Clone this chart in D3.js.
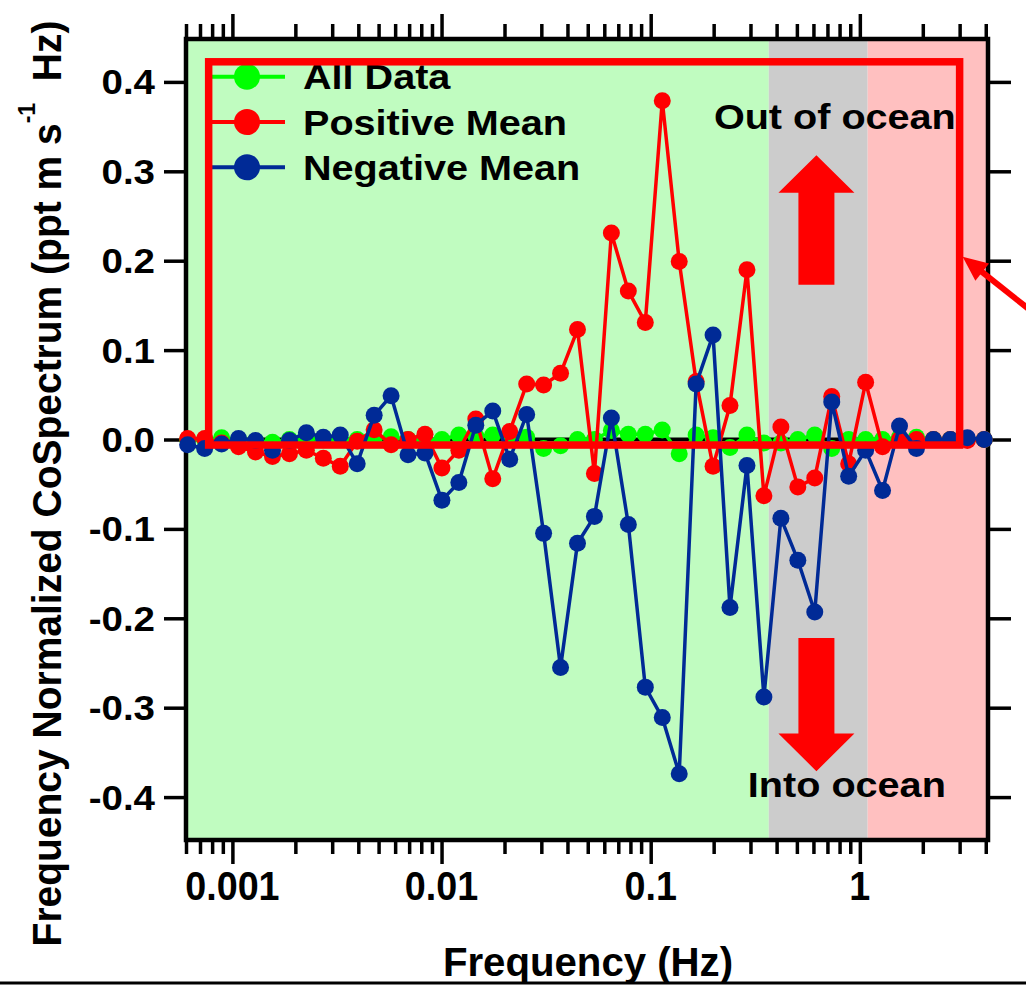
<!DOCTYPE html>
<html>
<head>
<meta charset="utf-8">
<script src="https://cdn.jsdelivr.net/npm/d3@7"></script>
<style>
  html, body { margin: 0; padding: 0; background: #ffffff; }
  svg { display: block; }
  text { font-family: "Liberation Sans", Arial, Helvetica, sans-serif; font-weight: bold; fill: #000; }
</style>
</head>
<body>
<svg id="chart" width="1026" height="986"></svg>
<script>
// ---- data ----------------------------------------------------------------
const frequency = [
  0.000611, 0.000737, 0.000888, 0.00107, 0.00129, 0.001555, 0.001874, 0.002258,
  0.002721, 0.003279, 0.003951, 0.004762, 0.005738, 0.006915, 0.008332, 0.01004,
  0.0121, 0.01458, 0.01757, 0.02118, 0.02553, 0.03076, 0.03707, 0.04467,
  0.05383, 0.06487, 0.07818, 0.09424, 0.1136, 0.1369, 0.1649, 0.1987,
  0.2394, 0.2886, 0.3478, 0.4193, 0.5053, 0.6088, 0.7339, 0.8843,
  1.066, 1.284, 1.548, 1.865, 2.248, 2.709, 3.265, 3.935
];

const allData = [
  0.000, 0.000, 0.002, 0.000, -0.002, -0.003, 0.000, 0.001,
  0.000, 0.000, 0.000, 0.001, 0.003, 0.000, 0.000, 0.000,
  0.005, 0.004, 0.005, 0.002, 0.0025, -0.010, -0.007, 0.000,
  0.000, 0.010, 0.006, 0.006, 0.0106, -0.016, 0.005, 0.002,
  -0.009, 0.005, -0.004, -0.004, 0.000, 0.005, -0.010, 0.000,
  0.000, 0.000, 0.0025, 0.0025, 0.000, 0.000, 0.000, 0.000
];

const positiveMean = [
  0.001, 0.001, -0.004, -0.008, -0.014, -0.019, -0.016, -0.012,
  -0.021, -0.030, -0.002, 0.011, -0.006, 0.000, 0.006, -0.032,
  -0.012, 0.023, -0.044, 0.009, 0.062, 0.061, 0.074, 0.123,
  -0.038, 0.231, 0.166, 0.131, 0.379, 0.199, 0.065, -0.030,
  0.038, 0.190, -0.063, 0.014, -0.053, -0.043, 0.048, -0.027,
  0.064, -0.008, 0.000, 0.000, 0.000, 0.000, -0.001, 0.000
];

const negativeMean = [
  -0.006, -0.010, -0.005, 0.001, -0.001, -0.012, -0.001, 0.0076,
  0.0025, 0.005, -0.027, 0.027, 0.049, -0.017, -0.015, -0.068,
  -0.048, 0.016, 0.032, -0.022, 0.028, -0.105, -0.255, -0.116,
  -0.086, 0.024, -0.095, -0.277, -0.311, -0.374, 0.062, 0.117,
  -0.188, -0.029, -0.288, -0.088, -0.135, -0.193, 0.042, -0.041,
  -0.012, -0.057, 0.015, -0.010, 0.000, 0.000, 0.002, 0.000
];

const seriesNames  = ["All Data", "Positive Mean", "Negative Mean"];
const seriesValues = [allData, positiveMean, negativeMean];
const seriesColors = ["#00ff00", "#ff0000", "#002a96"];

const yTickValues = [-0.4, -0.3, -0.2, -0.1, 0.0, 0.1, 0.2, 0.3, 0.4];
const yTickLabels = ["-0.4", "-0.3", "-0.2", "-0.1", "0.0", "0.1", "0.2", "0.3", "0.4"];
const xTickValues = [0.001, 0.01, 0.1, 1];
const xTickLabels = ["0.001", "0.01", "0.1", "1"];

// frequency bands shaded behind the spectrum
const bandEdges  = [0.367, 1.09];
const bandColors = ["#c0fcc0", "#cccccc", "#ffc0c0"];

// ---- layout --------------------------------------------------------------
const W = 1026, H = 986;
const plot = { left: 186, right: 988, top: 39, bottom: 840 };

const svg = d3.select("#chart");

const x = d3.scaleLog().domain([0.0006, 4.1]).range([plot.left, plot.right]);
const y = d3.scaleLinear().domain([-0.448, 0.448]).range([plot.bottom, plot.top]);

function label(parent, str, px, py, size, anchor, sx) {
  return parent.append("text")
    .attr("transform", `translate(${px},${py}) scale(${sx || 1.1},1)`)
    .attr("text-anchor", anchor || "start")
    .style("font-size", size + "px")
    .text(str);
}

// ---- background bands ----------------------------------------------------
const bandBounds = [x.domain()[0], ...bandEdges, x.domain()[1]];
svg.append("g").selectAll("rect")
  .data(bandColors)
  .join("rect")
  .attr("x", (d, i) => x(bandBounds[i]))
  .attr("width", (d, i) => x(bandBounds[i + 1]) - x(bandBounds[i]))
  .attr("y", plot.top)
  .attr("height", plot.bottom - plot.top)
  .attr("fill", d => d);

// zero reference line
svg.append("line")
  .attr("x1", plot.left).attr("x2", plot.right)
  .attr("y1", y(0)).attr("y2", y(0))
  .attr("stroke", "#000").attr("stroke-width", 4);

// ---- flux direction arrows -----------------------------------------------
const arrowX = x(0.62);
const shaftHalf = 18, headHalf = 38;
function blockArrow(tipY, headBaseY, tailY) {
  return [
    [arrowX, tipY],
    [arrowX + headHalf, headBaseY],
    [arrowX + shaftHalf, headBaseY],
    [arrowX + shaftHalf, tailY],
    [arrowX - shaftHalf, tailY],
    [arrowX - shaftHalf, headBaseY],
    [arrowX - headHalf, headBaseY]
  ];
}
svg.append("polygon")
  .attr("points", blockArrow(y(0.318), y(0.276), y(0.173)).join(" "))
  .attr("fill", "#ff0000");
svg.append("polygon")
  .attr("points", blockArrow(y(-0.371), y(-0.329), y(-0.222)).join(" "))
  .attr("fill", "#ff0000");

label(svg, "Out of ocean", x(0.2005), y(0.347), 36);
label(svg, "Into ocean", x(0.2915), y(-0.400), 36);

// ---- frame and axes ------------------------------------------------------
svg.append("rect")
  .attr("x", plot.left).attr("y", plot.top)
  .attr("width", plot.right - plot.left).attr("height", plot.bottom - plot.top)
  .attr("fill", "none").attr("stroke", "#000").attr("stroke-width", 4.5);

const logTicks = x.ticks().filter(v => v >= x.domain()[0] && v <= x.domain()[1] * 1.0001);
const minorTicks = logTicks.filter(v => !xTickValues.some(m => Math.abs(m - v) / m < 1e-6));

function styleAxis(g) {
  g.select(".domain").remove();
  g.selectAll(".tick line").attr("stroke", "#000").attr("stroke-width", 3.5);
  g.selectAll(".tick text").remove();
}

svg.append("g").attr("transform", `translate(0,${plot.bottom})`)
  .call(d3.axisBottom(x).tickValues(minorTicks).tickSize(14).tickFormat("")).call(styleAxis);
svg.append("g").attr("transform", `translate(0,${plot.bottom})`)
  .call(d3.axisBottom(x).tickValues(xTickValues).tickSize(24).tickFormat("")).call(styleAxis);
svg.append("g").attr("transform", `translate(0,${plot.top})`)
  .call(d3.axisTop(x).tickValues(minorTicks).tickSize(15).tickFormat("")).call(styleAxis);
svg.append("g").attr("transform", `translate(0,${plot.top})`)
  .call(d3.axisTop(x).tickValues(xTickValues).tickSize(25).tickFormat("")).call(styleAxis);
svg.append("g").attr("transform", `translate(${plot.left},0)`)
  .call(d3.axisLeft(y).tickValues(yTickValues).tickSize(22).tickFormat("")).call(styleAxis);
svg.append("g").attr("transform", `translate(${plot.right},0)`)
  .call(d3.axisRight(y).tickValues(yTickValues).tickSize(23).tickFormat("")).call(styleAxis);

// tick labels
yTickValues.forEach((v, i) => label(svg, yTickLabels[i], 155, y(v) + 12.5, 35, "end"));
xTickValues.forEach((v, i) => label(svg, xTickLabels[i], x(v), 900, 41, "middle", 0.92));

// axis titles
label(svg, "Frequency (Hz)", 588, 976, 41, "middle", 0.98);

const yTitle = svg.append("text")
  .attr("transform", `translate(61,${(plot.top + plot.bottom) / 2 + 44}) scale(1.05,1) rotate(-90)`)
  .attr("text-anchor", "middle")
  .style("font-size", "39px");
yTitle.append("tspan").text("Frequency Normalized CoSpectrum (ppt m s");
yTitle.append("tspan").attr("dy", -25).style("font-size", "23px").text("-1");
yTitle.append("tspan").attr("dy", 25).text("\u00a0\u00a0Hz)");

// ---- series --------------------------------------------------------------
const lineGen = d3.line()
  .x((d, i) => x(frequency[i]))
  .y(d => y(d));

seriesValues.forEach((vals, s) => {
  const g = svg.append("g");
  g.append("path")
    .datum(vals)
    .attr("d", lineGen)
    .attr("fill", "none")
    .attr("stroke", seriesColors[s])
    .attr("stroke-width", 3.5)
    .attr("stroke-linejoin", "round");
  g.selectAll("circle")
    .data(vals)
    .join("circle")
    .attr("cx", (d, i) => x(frequency[i]))
    .attr("cy", d => y(d))
    .attr("r", 8.5)
    .attr("fill", seriesColors[s]);
});

// ---- legend --------------------------------------------------------------
const legendTop = 76.7, legendStep = 45.3;
seriesNames.forEach((name, s) => {
  const ly = legendTop + s * legendStep;
  svg.append("line")
    .attr("x1", 205).attr("x2", 285).attr("y1", ly).attr("y2", ly)
    .attr("stroke", seriesColors[s]).attr("stroke-width", 4);
  svg.append("circle")
    .attr("cx", 247).attr("cy", ly).attr("r", 13)
    .attr("fill", seriesColors[s]);
  label(svg, name, 303, ly + 12.7, 36);
});

// ---- highlight box with pointer ------------------------------------------
svg.append("rect")
  .attr("x", x(0.00077)).attr("y", y(0.4225))
  .attr("width", x(3.0) - x(0.00077))
  .attr("height", y(-0.0062) - y(0.4225))
  .attr("fill", "none")
  .attr("stroke", "#ff0000")
  .attr("stroke-width", 7.5);

const tip = [x(3.0) + 3, y(0.2045)];
const dir = [0.784, 0.621];
const headLen = 25, headHalfW = 11;
const base = [tip[0] + dir[0] * headLen, tip[1] + dir[1] * headLen];
svg.append("line")
  .attr("x1", base[0] - dir[0] * 2).attr("y1", base[1] - dir[1] * 2)
  .attr("x2", tip[0] + dir[0] * 120).attr("y2", tip[1] + dir[1] * 120)
  .attr("stroke", "#ff0000").attr("stroke-width", 6);
svg.append("polygon")
  .attr("points", [
    tip,
    [base[0] + dir[1] * headHalfW, base[1] - dir[0] * headHalfW],
    [base[0] - dir[1] * headHalfW, base[1] + dir[0] * headHalfW]
  ].join(" "))
  .attr("fill", "#ff0000");

// bottom rule
svg.append("rect")
  .attr("x", 0).attr("y", 981.5).attr("width", W).attr("height", 3)
  .attr("fill", "#000");
</script>
</body>
</html>
